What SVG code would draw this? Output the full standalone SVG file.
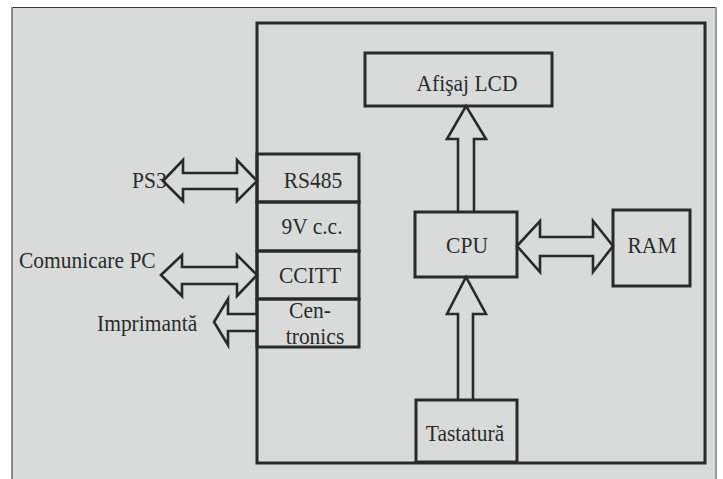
<svg xmlns="http://www.w3.org/2000/svg" width="723" height="479" viewBox="0 0 723 479">
  <style>
    .box { fill: none; stroke: #2a2a2a; stroke-width: 3; }
    .arrow { fill: #d9dbda; stroke: #2a2a2a; stroke-width: 2.6; stroke-linejoin: miter; }
    .t { font-family: 'Liberation Serif', 'Times New Roman', serif; font-size: 21.5px; fill: #2b2b2b; }
    .mid { text-anchor: middle; }
  </style>
  <rect x="0" y="0" width="723" height="479" fill="#ffffff"/>
  <!-- panel -->
  <rect x="11" y="7" width="705" height="480" fill="#d9dbda"/>
  <line x1="11" y1="7.5" x2="716" y2="7.5" stroke="#3a3a3a" stroke-width="1"/>
  <line x1="12" y1="7" x2="12" y2="479" stroke="#8a8a8a" stroke-width="2"/>
  <line x1="716" y1="7" x2="716" y2="479" stroke="#9a9a9a" stroke-width="2"/>

  <!-- device enclosure -->
  <g id="device">
    <rect class="box" x="257" y="23" width="448" height="440"/>
  </g>

  <g id="connectors">
    <!-- PS3 <-> RS485 -->
    <polygon class="arrow" points="163,181 183,160 183,173 237,173 237,160 257,181 237,201 237,189 183,189 183,201"/>
    <!-- Comunicare PC <-> CCITT -->
    <polygon class="arrow" points="161,275 182,255 182,267 237,267 237,255 257,275 237,296 237,284 182,284 182,296"/>
    <!-- Centronics -> Imprimanta -->
    <polyline class="arrow" points="257,314 228,314 228,299 214,322 228,345 228,331 257,331"/>
    <!-- CPU -> LCD -->
    <polyline class="arrow" points="458,212 458,139 447,139 466,106 486,139 474,139 474,212"/>
    <!-- Tastatura -> CPU -->
    <polyline class="arrow" points="458,400 458,314 447,314 466,277 486,314 473,314 473,400"/>
    <!-- CPU <-> RAM -->
    <polygon class="arrow" points="517,246 540,221 540,237 593,237 593,221 613,246 593,272 593,256 540,256 540,272"/>
  </g>

  <!-- labels are drawn slightly taller than the font's natural proportions -->
  <g id="rs485">
    <rect class="box" x="257" y="154" width="102" height="48"/>
    <text transform="translate(313,188) scale(1,1.1)" class="t mid">RS485</text>
  </g>
  <g id="alimentare">
    <rect class="box" x="257" y="202" width="102" height="49"/>
    <text transform="translate(312,234) scale(1,1.1)" class="t mid">9V c.c.</text>
  </g>
  <g id="ccitt">
    <rect class="box" x="257" y="251" width="102" height="48"/>
    <text transform="translate(310,283) scale(1,1.1)" class="t mid">CCITT</text>
  </g>
  <g id="centronics">
    <rect class="box" x="257" y="299" width="102" height="48"/>
    <text transform="translate(310,318) scale(1,1.1)" class="t mid">Cen-</text>
    <text transform="translate(315,344) scale(1,1.1)" class="t mid">tronics</text>
  </g>

  <g id="lcd">
    <rect class="box" x="365" y="53" width="187" height="53"/>
    <text transform="translate(467,91) scale(1,1.1)" class="t mid">Afişaj LCD</text>
  </g>
  <g id="cpu">
    <rect class="box" x="415" y="212" width="102" height="65"/>
    <text transform="translate(467,253) scale(1,1.1)" class="t mid">CPU</text>
  </g>
  <g id="ram">
    <rect class="box" x="613" y="210" width="77" height="76"/>
    <text transform="translate(652,253) scale(1,1.1)" class="t mid">RAM</text>
  </g>
  <g id="tastatura">
    <rect class="box" x="416" y="400" width="101" height="62"/>
    <text transform="translate(465,441) scale(1,1.1)" class="t mid">Tastatură</text>
  </g>

  <g id="labels">
    <text transform="translate(132,188) scale(1,1.1)" class="t">PS3</text>
    <text transform="translate(19,268) scale(1,1.1)" class="t">Comunicare PC</text>
    <text transform="translate(97,331) scale(1,1.1)" class="t">Imprimantă</text>
  </g>
</svg>
